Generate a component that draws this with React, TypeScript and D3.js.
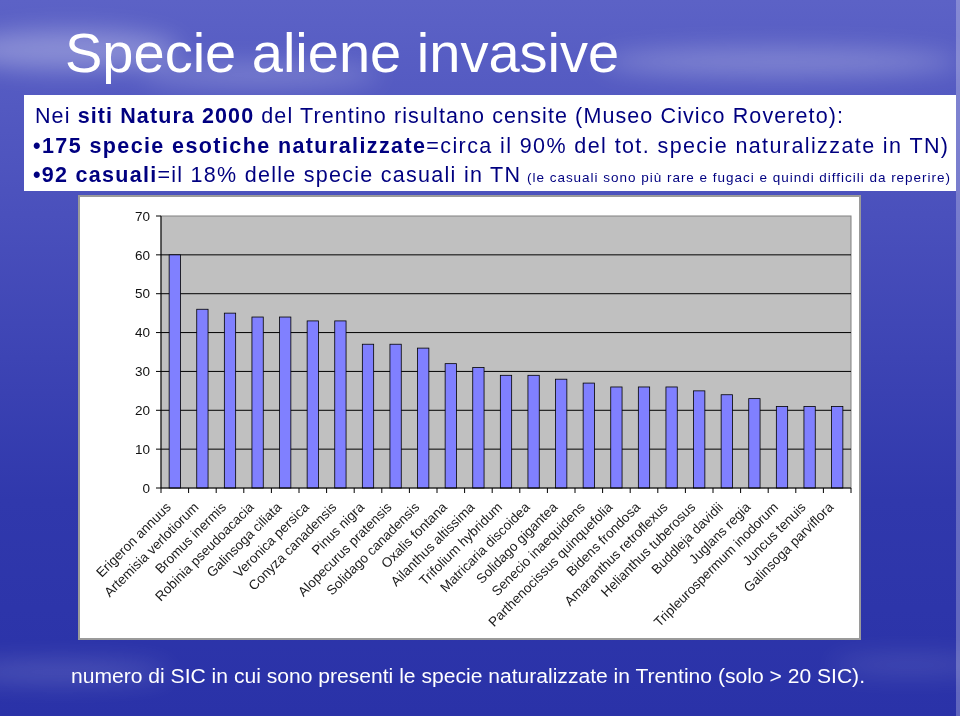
import React from 'react';
import * as d3 from 'd3';

// numero di SIC per specie (solo > 20 SIC)
const species = [
  'Erigeron annuus', 'Artemisia verlotiorum', 'Bromus inermis', 'Robinia pseudoacacia',
  'Galinsoga ciliata', 'Veronica persica', 'Conyza canadensis', 'Pinus nigra',
  'Alopecurus pratensis', 'Solidago canadensis', 'Oxalis fontana', 'Ailanthus altissima',
  'Trifolium hybridum', 'Matricaria discoidea', 'Solidago gigantea', 'Senecio inaequidens',
  'Parthenocissus quinquefolia', 'Bidens frondosa', 'Amaranthus retroflexus',
  'Helianthus tuberosus', 'Buddleja davidii', 'Juglans regia', 'Tripleurospermum inodorum',
  'Juncus tenuis', 'Galinsoga parviflora',
];
const sicCounts = [60, 46, 45, 44, 44, 43, 43, 37, 37, 36, 32, 31, 29, 29, 28, 27, 26, 26, 26, 25, 24, 23, 21, 21, 21];
const yTicks = [0, 10, 20, 30, 40, 50, 60, 70];

const FONT = 'Arial, "Liberation Sans", Helvetica, sans-serif';

export default function App() {
  const W = 960, H = 716;
  const plot = { l: 161, r: 851, t: 216, b: 488 };

  const x = d3.scaleBand<string>().domain(species).range([plot.l, plot.r]).padding(0);
  const y = d3.scaleLinear().domain([0, 70]).range([plot.b, plot.t]);
  const bw = x.bandwidth();
  const barW = bw * 0.41;

  const xTickPos = species.map(d => x(d) as number).concat([plot.r]);

  return (
    <div style={{ position: 'absolute', left: 0, top: 0 }}>
      <svg width={W} height={H} style={{ display: 'block' }}>
        <defs>
          <linearGradient id="bg" x1="0" y1="0" x2="0" y2="1">
            <stop offset="0" stopColor="#5c62c6" />
            <stop offset="0.3" stopColor="#4a50bc" />
            <stop offset="0.7" stopColor="#3038ac" />
            <stop offset="1" stopColor="#2a32a8" />
          </linearGradient>
          <filter id="blur" x="-50%" y="-50%" width="200%" height="200%">
            <feGaussianBlur stdDeviation="12" />
          </filter>
        </defs>

        {/* sfondo slide */}
        <rect x={0} y={0} width={W} height={H} fill="url(#bg)" />
        <g filter="url(#blur)" fill="#ffffff">
          <ellipse cx={70} cy={50} rx={110} ry={20} opacity={0.3} />
          <ellipse cx={260} cy={75} rx={120} ry={12} opacity={0.22} />
          <ellipse cx={780} cy={62} rx={180} ry={14} opacity={0.25} />
          <ellipse cx={60} cy={672} rx={110} ry={10} opacity={0.18} />
          <ellipse cx={910} cy={665} rx={80} ry={10} opacity={0.12} />
        </g>
        <rect x={956} y={0} width={4} height={H} fill="#ffffff" opacity={0.25} />

        {/* titolo */}
        <text x={65} y={72} fill="#ffffff" fontFamily={FONT} fontSize={56}>Specie aliene invasive</text>

        {/* box testo */}
        <rect x={24} y={95} width={932} height={96} fill="#ffffff" />
        <g fontFamily={FONT} fill="#000080">
          <text x={35} y={123} fontSize={21.5} textLength={808} lengthAdjust="spacing">
            Nei <tspan fontWeight="bold">siti Natura 2000</tspan> del Trentino risultano censite (Museo Civico Rovereto):
          </text>
          <text x={33} y={153} fontSize={21.5} textLength={915} lengthAdjust="spacing">
            <tspan fontWeight="bold">•175 specie esotiche naturalizzate</tspan>=circa il 90% del tot. specie naturalizzate in TN)
          </text>
          <text x={33} y={182} fontSize={21.5} textLength={487} lengthAdjust="spacing">
            <tspan fontWeight="bold">•92 casuali</tspan>=il 18% delle specie casuali in TN
          </text>
          <text x={527} y={182} fontSize={13.5} textLength={423} lengthAdjust="spacing">
            (le casuali sono più rare e fugaci e quindi difficili da reperire)
          </text>
        </g>

        {/* pannello grafico */}
        <rect x={79} y={196} width={781} height={443} fill="#ffffff" stroke="#9a9a9a" strokeWidth={2} />
        <rect x={plot.l} y={plot.t} width={plot.r - plot.l} height={plot.b - plot.t} fill="#c0c0c0" stroke="#808080" strokeWidth={1} />

        {/* griglia */}
        <g>
          {yTicks.filter(t => t > 0 && t < 70).map(t => (
            <line key={t} x1={plot.l} x2={plot.r} y1={y(t)} y2={y(t)} stroke="#000000" strokeWidth={1} />
          ))}
        </g>

        {/* barre */}
        <g>
          {species.map((d, i) => (
            <rect key={d}
              x={(x(d) as number) + (bw - barW) / 2}
              y={y(sicCounts[i])}
              width={barW}
              height={plot.b - y(sicCounts[i])}
              fill="#8080ff" stroke="#000000" strokeWidth={0.8} />
          ))}
        </g>

        {/* assi */}
        <line x1={plot.l} x2={plot.l} y1={plot.t} y2={plot.b} stroke="#000000" />
        <line x1={plot.l} x2={plot.r} y1={plot.b} y2={plot.b} stroke="#000000" />
        <g>
          {yTicks.map(t => (
            <g key={t} transform={`translate(${plot.l},${y(t)})`}>
              <line x1={-5} x2={0} stroke="#000000" />
              <text x={-11} dy="0.35em" textAnchor="end" fontFamily={FONT} fontSize={13.5} fill="#111">{t}</text>
            </g>
          ))}
        </g>
        <g>
          {xTickPos.map((p, i) => (
            <line key={i} x1={p} x2={p} y1={plot.b} y2={plot.b + 5} stroke="#000000" />
          ))}
        </g>
        <g>
          {species.map(d => (
            <text key={d}
              transform={`translate(${(x(d) as number) + bw / 2 - 3},${plot.b + 20}) rotate(-45)`}
              textAnchor="end" fontFamily={FONT} fontSize={13.5} fill="#1a1a1a">{d}</text>
          ))}
        </g>

        {/* didascalia */}
        <text x={71} y={683} fill="#ffffff" fontFamily={FONT} fontSize={19.5} textLength={794} lengthAdjust="spacingAndGlyphs">
          numero di SIC in cui sono presenti le specie naturalizzate in Trentino (solo &gt; 20 SIC).
        </text>
      </svg>
    </div>
  );
}
